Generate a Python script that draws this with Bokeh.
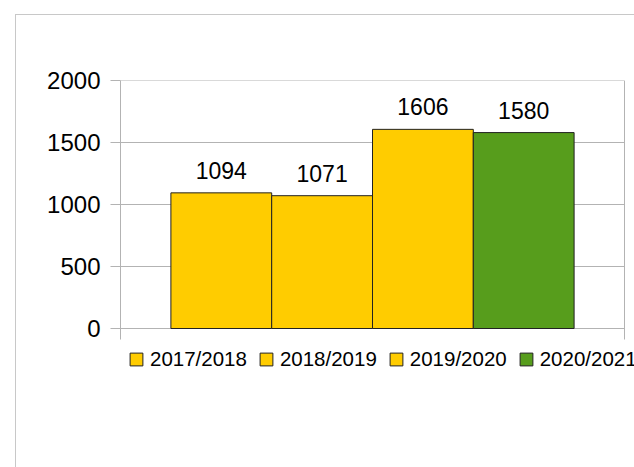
from bokeh.plotting import figure
from bokeh.models import (ColumnDataSource, Range1d, FixedTicker,
                          LabelSet, Legend, LegendItem)
from bokeh.core.properties import value
from bokeh.embed import file_html
from bokeh.resources import INLINE

seasons = ["2017/2018", "2018/2019", "2019/2020", "2020/2021"]
values = [1094, 1071, 1606, 1580]
colors = ["#ffcc00", "#ffcc00", "#ffcc00", "#579d1c"]
y_ticks = [0, 500, 1000, 1500, 2000]

FONT = "Liberation Sans"
GRID = "#b3b3b3"

# layout (pixels)
FIG_W, FIG_H = 618, 452
TOP, LEFT = 65, 104
PLOT_W, PLOT_H = 504, 248          # pixel size of the chart's plot area
frame_h = FIG_H - TOP
frame_w = FIG_W - LEFT
units_per_px = y_ticks[-1] / PLOT_H
y_start = y_ticks[-1] - frame_h * units_per_px
tick_len = 11 * units_per_px

pos = list(range(len(seasons)))
src = ColumnDataSource(dict(x=pos, top=values, color=colors, season=seasons,
                            label=[str(v) for v in values]))

x_lo, x_hi = pos[0] - 1, pos[-1] + 1
x_per_px = (x_hi - x_lo) / PLOT_W
p = figure(width=FIG_W, height=FIG_H, output_backend="svg", toolbar_location=None,
           x_range=Range1d(x_lo, x_lo + frame_w * x_per_px),
           y_range=Range1d(y_start, y_ticks[-1]),
           x_axis_location=None,
           min_border_left=LEFT, min_border_top=TOP, min_border_right=0, min_border_bottom=0)
p.margin = (15, 0, 0, 16)
p.styles = {"outline": "1px solid #c8c8c8"}
p.background_fill_color = "white"
p.border_fill_color = "white"
p.outline_line_color = None
p.xgrid.visible = False
p.ygrid.visible = False

ya = p.yaxis[0]
ya.ticker = FixedTicker(ticks=y_ticks)
ya.bounds = (-tick_len, y_ticks[-1])
ya.axis_line_color = GRID
ya.major_tick_line_color = GRID
ya.major_tick_out = 10
ya.major_tick_in = 0
ya.minor_tick_line_color = None
ya.major_label_text_font = FONT
ya.major_label_text_font_size = "24px"
ya.major_label_text_color = "black"
ya.major_label_standoff = 10

# horizontal grid lines limited to the plot area
n = len(y_ticks)
p.segment(x0=[x_lo] * n, y0=y_ticks, x1=[x_hi] * n, y1=y_ticks, line_color=GRID, line_width=1)
# right edge of the plot area (with its outer tick)
p.segment(x0=[x_hi], y0=[-tick_len], x1=[x_hi], y1=[y_ticks[-1]], line_color=GRID, line_width=1)

r = p.vbar(x="x", top="top", width=1.0, source=src, fill_color="color",
           line_color="#222222", line_width=1)

p.add_layout(LabelSet(x="x", y="top", text="label", source=src, y_offset=14,
                      text_align="center", text_baseline="alphabetic",
                      text_font=value(FONT), text_font_size="23px", text_color="black"))

legend = Legend(items=[LegendItem(label=s, renderers=[r], index=i) for i, s in enumerate(seasons)],
                orientation="horizontal", location=(8, 96),
                padding=0, margin=0, spacing=11, label_standoff=6,
                glyph_width=16, glyph_height=16, label_height=16,
                label_text_font=FONT, label_text_font_size="20.5px", label_text_color="black",
                border_line_color=None, background_fill_alpha=0)
p.add_layout(legend, "center")

open("out.html", "w").write(file_html(p, INLINE))
